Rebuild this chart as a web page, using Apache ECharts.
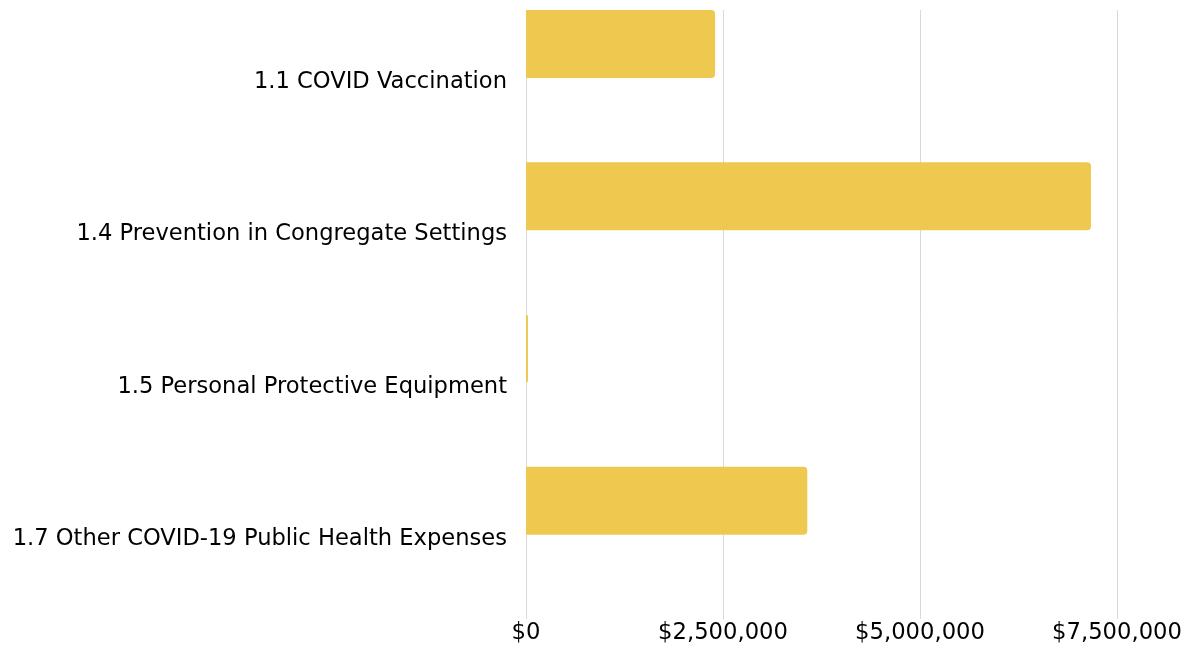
<!DOCTYPE html>
<html>
<head>
<meta charset="utf-8">
<script src="https://cdn.jsdelivr.net/npm/echarts@6/dist/echarts.min.js"></script>
<style>
html,body{margin:0;padding:0;background:#fff;}
#chart{width:1188px;height:645px;}
</style>
</head>
<body>
<div id="chart"></div>
<script>
const categories = [
  "1.1 COVID Vaccination",
  "1.4 Prevention in Congregate Settings",
  "1.5 Personal Protective Equipment",
  "1.7 Other COVID-19 Public Health Expenses"
];
const amounts = [2400000, 7170000, 25000, 3570000];
const tickValues = [0, 2500000, 5000000, 7500000];

const FONT = "DejaVu Sans";
const chart = echarts.init(document.getElementById('chart'));
chart.setOption({
  animation: false,
  grid: { left: 526, right: 71, top: 10, bottom: 26, containLabel: false },
  xAxis: {
    type: 'value',
    min: tickValues[0], max: tickValues[tickValues.length - 1], interval: tickValues[1] - tickValues[0],
    axisLine: { show: false },
    axisTick: { show: false },
    splitLine: { show: true, lineStyle: { color: '#d9d9d9', width: 1 } },
    axisLabel: {
      color: '#000', fontFamily: FONT, fontSize: 22.7, margin: 3,
      formatter: v => '$' + v.toLocaleString('en-US')
    }
  },
  yAxis: {
    type: 'category',
    data: categories,
    inverse: true,
    axisLine: { show: false },
    axisTick: { show: false },
    splitLine: { show: false },
    axisLabel: {
      color: '#000', fontFamily: FONT, fontSize: 22.6, margin: 19,
      verticalAlign: 'bottom', lineHeight: 8
    }
  },
  series: [
    {
      type: 'bar',
      data: amounts,
      barWidth: '44.65%',
      barGap: '0%',
      itemStyle: { color: '#EFC84F', borderRadius: [0, 4, 4, 0] }
    },
    {
      type: 'bar',
      data: amounts.map(() => '-'),
      barWidth: '55.35%',
      barGap: '0%',
      itemStyle: { color: 'transparent' },
      silent: true
    }
  ]
});
</script>
</body>
</html>
